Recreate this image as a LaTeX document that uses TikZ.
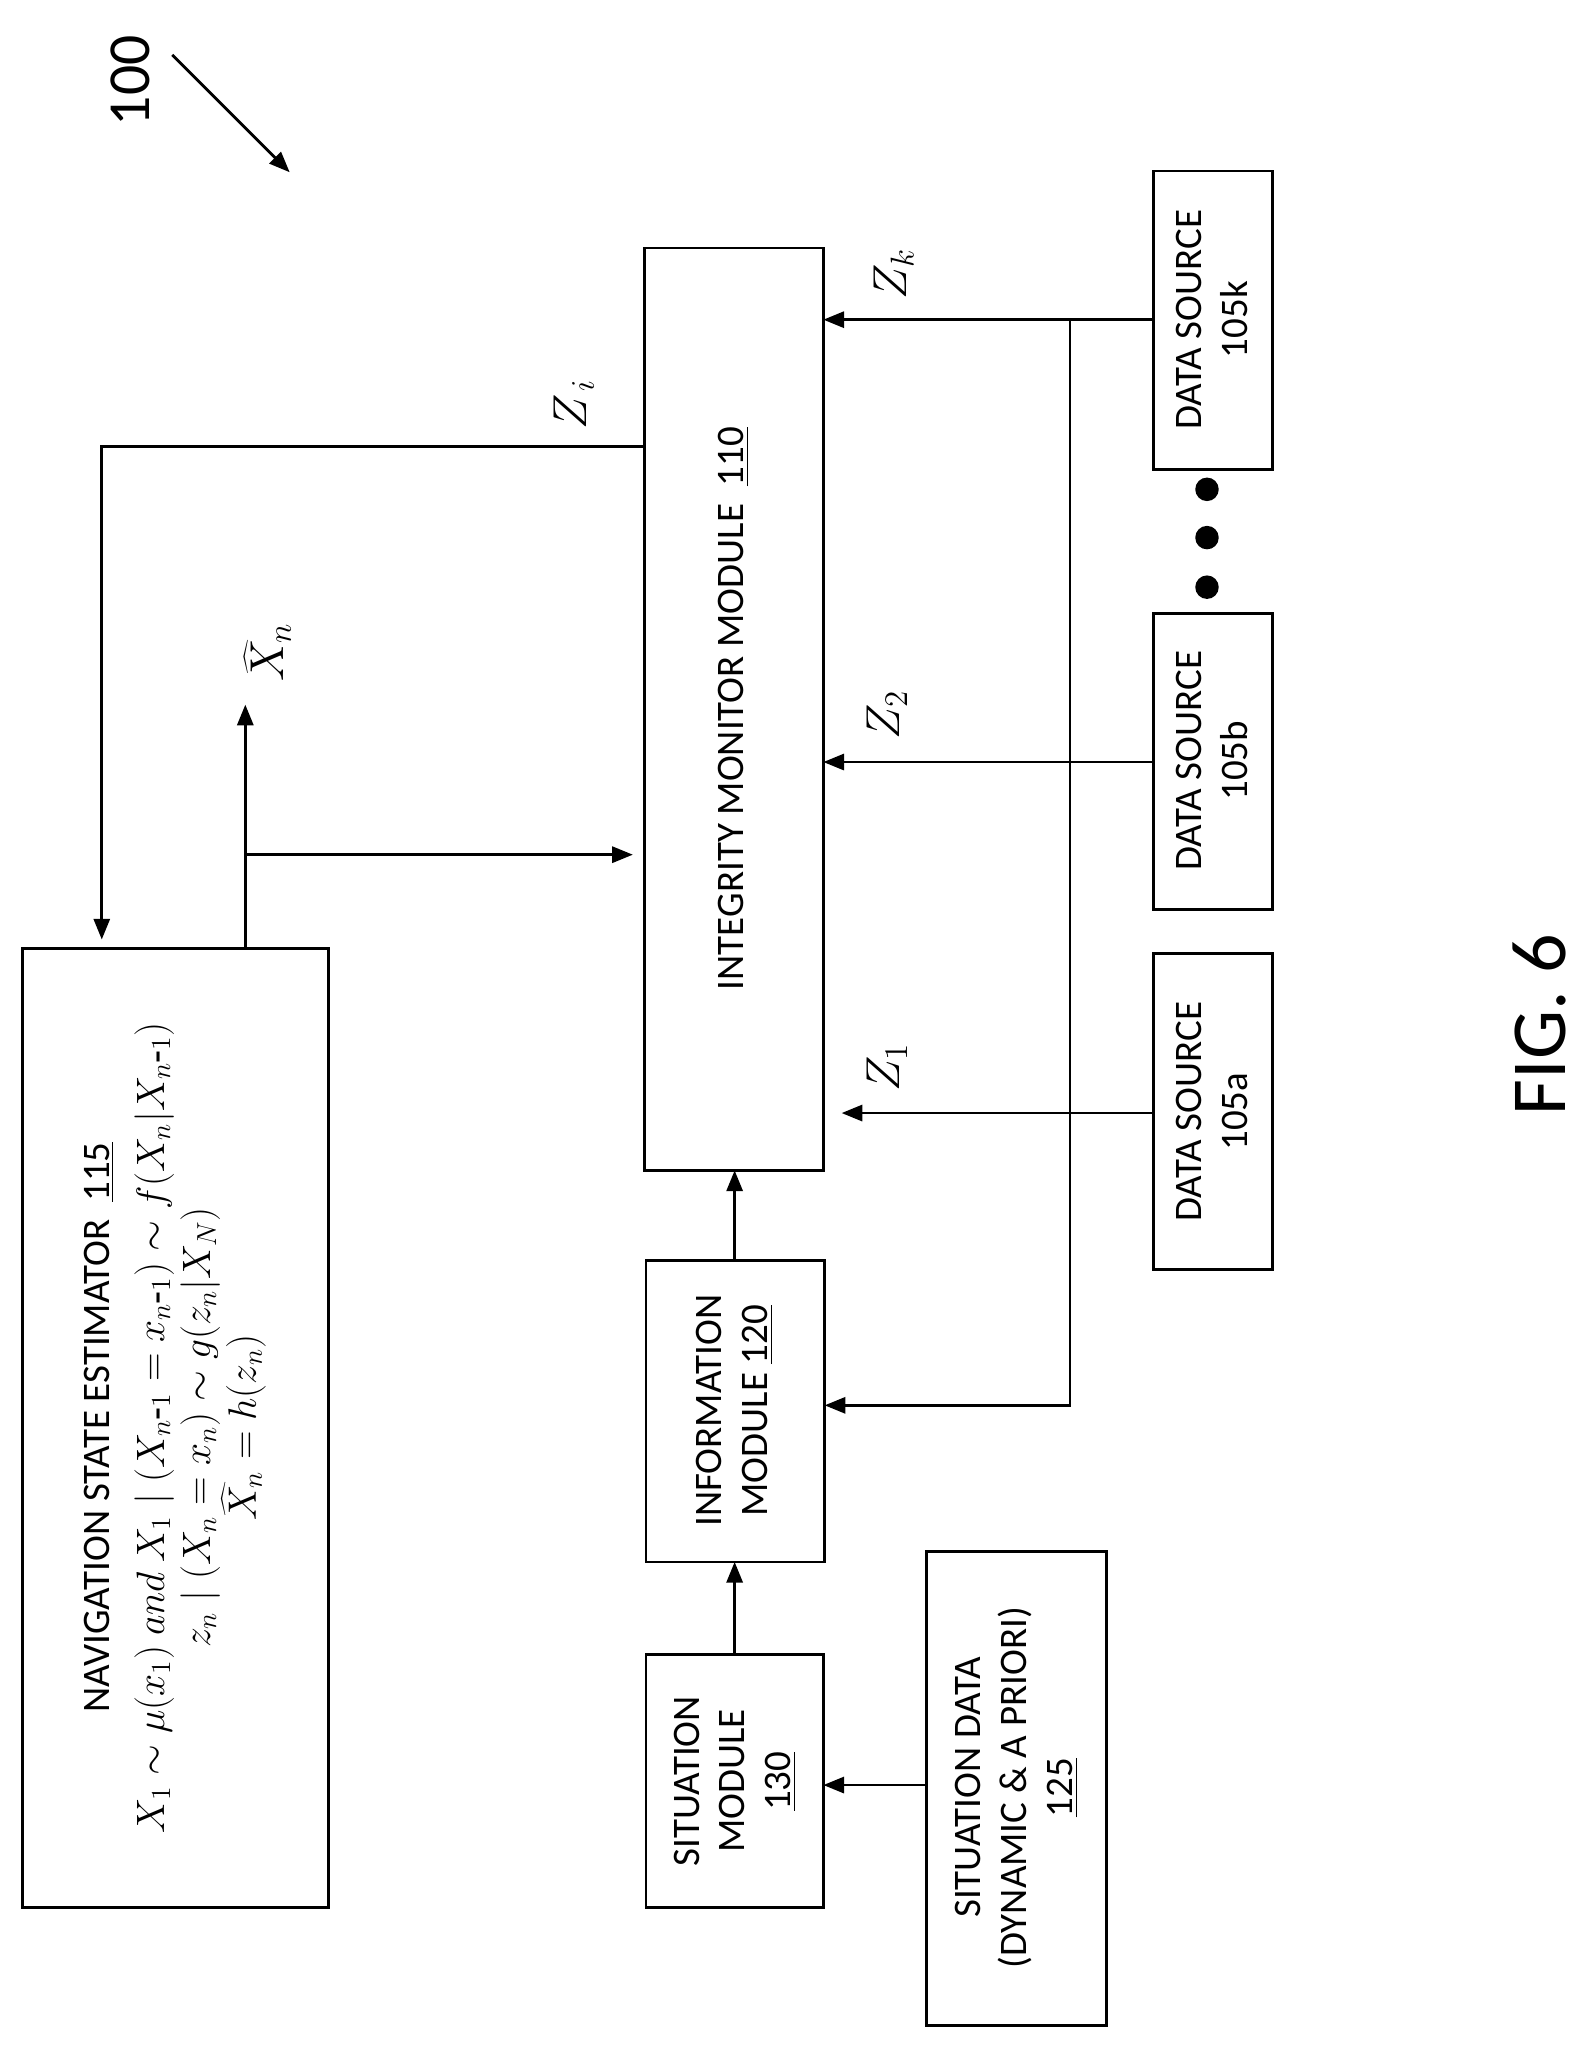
\documentclass[tikz,border=0pt]{standalone}
\usepackage{fontspec}
\setmainfont{Carlito}
\usetikzlibrary{arrows.meta}
\begin{document}
\begin{tikzpicture}[x=0.02cm,y=-0.02cm,
  box/.style={draw,line width=1.2pt},
  con/.style={line width=1.2pt},
  arr/.style={con,-{Triangle[length=9pt,width=7pt]}},
  lab/.style={rotate=90,font=\fontsize{17}{20}\selectfont,align=center},
  zl/.style={rotate=90,font=\fontsize{22}{24}\selectfont}]
\useasboundingbox (0,0) rectangle (1216,1568);
\draw[box] (17,727) rectangle (252,1462);
\node[lab] (nav) at (134,1094) {NAVIGATION STATE ESTIMATOR\ \ \underline{115}\\[4pt]
 \fontsize{18.5}{24}\selectfont $X_1\sim\mu(x_1)\ and\ X_1\mid(X_{n\mbox{-}1}=x_{n\mbox{-}1})\sim f(X_n|X_{n\mbox{-}1})$\\
 \fontsize{18.5}{24}\selectfont $z_n\mid(X_n=x_n)\sim g(z_n|X_N)$\\
 \fontsize{18.5}{24}\selectfont $\widehat{X}_n=h(z_n)$};
\draw[box] (494,190) rectangle (631,897);
\node[lab] (im) at (562,543) {INTEGRITY MONITOR MODULE\ \ \underline{110}};
\draw[box] (495,966) rectangle (632,1197);
\node[lab] (info) at (563,1081) {INFORMATION\\MODULE \underline{120}};
\draw[box] (495,1268) rectangle (631,1462);
\node[lab] (sit) at (563,1365) {SITUATION\\MODULE\\\underline{130}};
\draw[box] (710,1189) rectangle (848,1552);
\node[lab] (sd) at (779,1370) {SITUATION DATA\\(DYNAMIC \& A PRIORI)\\\underline{125}};
\draw[box] (884,731) rectangle (975,973);
\node[lab] (da) at (929,852) {DATA SOURCE\\105a};
\draw[box] (884,470) rectangle (975,697);
\node[lab] (db) at (929,583) {DATA SOURCE\\105b};
\draw[box] (884,131) rectangle (975,360);
\node[lab] (dk) at (929,245) {DATA SOURCE\\105k};
\foreach \y in {375,412,450} \fill (925,\y) circle (9);
\coordinate (kb) at (820,245);
\draw[arr] (884,245) -- (631,245);
\draw[arr] (kb) -- (820,1077) -- (632,1077);
\draw[arr] (884,584) -- (631,584);
\draw[arr] (884,853) -- (645,853);
\draw[arr] (494,342) -- (78,342) -- (78,720);
\draw[arr] (188,727) -- (188,540);
\draw[arr] (188,655) -- (485,655);
\draw[arr] (563,966) -- (563,897);
\draw[arr] (563,1268) -- (563,1197);
\draw[arr] (710,1368) -- (631,1368);
\node[zl] at (685,210) {$Z_k$};
\node[zl] at (680,548) {$Z_2$};
\node[zl] at (680,818) {$Z_1$};
\node[zl] at (440,310) {$Z_{\,i}$};
\node[zl] at (205,500) {$\widehat{X}_n$};
\node[rotate=90,font=\fontsize{26}{28}\selectfont] at (100,62) {100};
\draw[arr] (132,42) -- (222,132);
\node[rotate=90,font=\fontsize{34}{36}\selectfont] at (1180,785) {FIG. 6};
\end{tikzpicture}
\end{document}
